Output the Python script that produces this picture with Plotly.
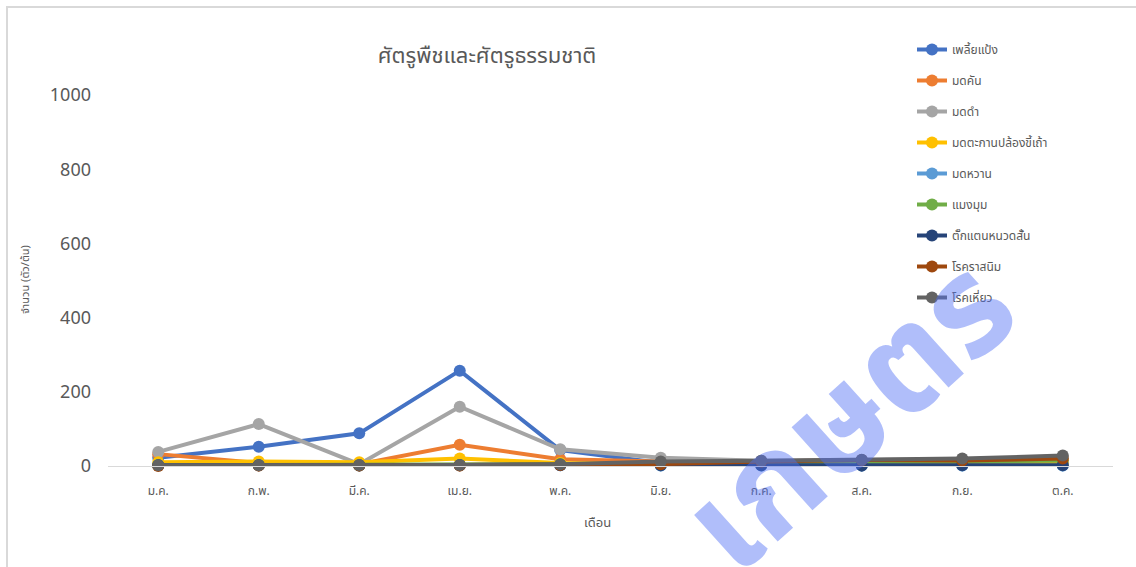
import plotly.graph_objects as go

months = ["ม.ค.", "ก.พ.", "มี.ค.", "เม.ย.", "พ.ค.", "มิ.ย.", "ก.ค.", "ส.ค.", "ก.ย.", "ต.ค."]

mealybug = [22, 52, 88, 257, 43, 8, 5, 4, 5, 5]
fire_ant = [32, 8, 5, 57, 18, 12, 10, 12, 12, 14]
black_ant = [38, 113, 5, 160, 45, 22, 14, 15, 18, 25]
ash_ant = [10, 12, 10, 20, 8, 5, 5, 5, 5, 5]
sweet_ant = [3, 2, 1, 2, 2, 1, 1, 1, 1, 1]
spider = [2, 3, 2, 3, 5, 6, 10, 10, 12, 15]
grasshopper = [2, 2, 2, 2, 2, 2, 2, 1, 2, 2]
rust = [0, 1, 1, 1, 3, 5, 12, 16, 15, 20]
wilt = [2, 2, 3, 3, 5, 12, 14, 17, 20, 28]

series = [
    ("เพลี้ยแป้ง", mealybug, "#4472C4"),
    ("มดคัน", fire_ant, "#ED7D31"),
    ("มดดำ", black_ant, "#A5A5A5"),
    ("มดตะกานปล้องขี้เถ้า", ash_ant, "#FFC000"),
    ("มดหวาน", sweet_ant, "#5B9BD5"),
    ("แมงมุม", spider, "#70AD47"),
    ("ตั๊กแตนหนวดสั้น", grasshopper, "#264478"),
    ("โรคราสนิม", rust, "#9E480E"),
    ("โรคเหี่ยว", wilt, "#636363"),
]

W, H = 1136, 567
L, R, T, B = 108, 23, 95, 101
pw, ph = W - L - R, H - T - B

def px(x):
    return (x - L) / pw

def py(y):
    return (H - B - y) / ph

FONT = "Noto Sans Thai, Noto Sans, Open Sans, sans-serif"
TXT = "#595959"

fig = go.Figure()
for i, (name, vals, col) in enumerate(series):
    fig.add_trace(go.Scatter(
        x=months, y=vals, name=name, mode="lines+markers",
        line=dict(color=col, width=4),
        marker=dict(color=col, size=12),
        legendgroup=f"g{i}", cliponaxis=False,
    ))

fig.update_layout(
    width=W, height=H,
    margin=dict(l=L, r=R, t=T, b=B),
    paper_bgcolor="white", plot_bgcolor="white",
    font=dict(family=FONT, color=TXT),
    title=dict(text="ศัตรูพืชและศัตรูธรรมชาติ", x=487 / W, y=1 - 55 / H,
               xanchor="center", yanchor="middle", xref="container", yref="container",
               font=dict(size=22, color=TXT)),
    showlegend=True,
    legend=dict(x=px(912), y=py(35), xanchor="left", yanchor="top",
                font=dict(size=12, color=TXT), tracegroupgap=12,
                bgcolor="rgba(0,0,0,0)"),
    xaxis=dict(range=[-0.5, 9.5], showgrid=False, zeroline=False,
               showline=True, linecolor="#d9d9d9", linewidth=1,
               ticks="", tickfont=dict(size=12, color=TXT), ticklabelstandoff=14),
    yaxis=dict(range=[0, 1000], dtick=200, showgrid=False, zeroline=False,
               showline=False, ticks="", tickfont=dict(size=18, color=TXT),
               ticklabelstandoff=16),
    shapes=[dict(type="rect", xref="paper", yref="paper",
                 x0=px(7), x1=px(W + 5), y0=py(7), y1=py(H + 5),
                 line=dict(color="#d9d9d9", width=2), layer="below")],
    annotations=[
        dict(text="จำนวน (ตัว/ต้น)", x=px(25), y=py(280), xref="paper", yref="paper",
             xanchor="center", yanchor="middle",
             textangle=-90, showarrow=False, font=dict(size=11, color=TXT)),
        dict(text="เดือน", x=px(597), y=py(523), xref="paper", yref="paper",
             xanchor="center", yanchor="middle",
             showarrow=False, font=dict(size=13, color=TXT)),
        dict(text="<b>เกษตร</b>", x=px(852), y=py(418), xref="paper", yref="paper",
             xanchor="center", yanchor="middle",
             textangle=-42, showarrow=False,
             font=dict(size=138, color="rgba(80,110,245,0.45)")),
    ],
)

fig.write_html("out.html")
